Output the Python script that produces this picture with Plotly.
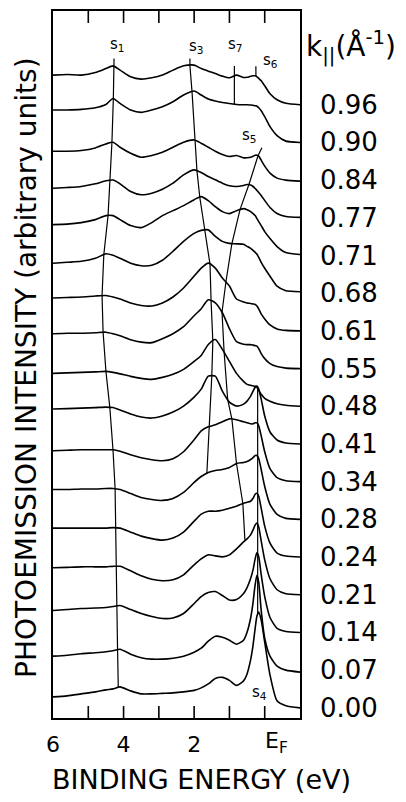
import numpy as np
import plotly.graph_objects as go

# Binding energy grid (eV) shared by every spectrum
energy = [6.0, 5.6, 5.2, 4.8, 4.5, 4.3, 4.1, 3.8, 3.5, 3.2, 2.9, 2.6, 2.3, 2.0, 1.8,
          1.6, 1.4, 1.2, 1.0, 0.8, 0.6, 0.5, 0.4, 0.33, 0.27, 0.22, 0.17, 0.1, 0.0,
          -0.15, -0.35, -0.6, -1.0]

# k_parallel labels, bottom spectrum first
k_labels = ["0.00", "0.07", "0.14", "0.21", "0.24", "0.28", "0.34", "0.41", "0.48",
            "0.55", "0.61", "0.68", "0.71", "0.77", "0.84", "0.90", "0.96"]

# Photoemission intensity (arbitrary units, above each spectrum's own baseline)
spec_000 = [11, 12, 14, 16, 18, 19, 21, 17, 14, 14, 14.5, 15, 16, 17.5, 20, 24, 29.5, 30.5, 27.5, 22.5, 27, 34, 48, 63, 80, 92, 96, 88, 66, 33, 7, 2, 0]
spec_007 = [14, 15, 16.5, 17.5, 18.5, 19.5, 21, 16, 12.5, 11, 11, 12, 14, 18, 22, 29, 34, 33, 30, 26, 30, 38, 52, 68, 86, 95, 88, 60, 32, 14, 4, 0, -2]
spec_014 = [22, 23, 24, 24.5, 25, 26, 27, 23, 19, 16, 14, 14.5, 19, 29, 36, 40, 41, 37, 32.5, 33, 39, 45, 54, 63, 74, 80, 76, 58, 36, 15, 4, 1, 0]
spec_021 = [27, 27.5, 28, 28, 28, 28.5, 28.5, 24, 19, 15.5, 14, 15, 20, 30, 36, 40, 39, 38, 40, 46, 53, 56, 60, 65, 70, 72, 68, 54, 35, 16, 5, 1, 0]
spec_024 = [29, 29, 29, 29, 29, 29.5, 29, 25, 21, 18.5, 17, 19, 25, 36, 43, 46, 46, 47, 49, 51, 54, 55, 56, 59, 63, 64, 61, 49, 31, 14, 4, 1, 0]
spec_028 = [30, 30, 30.5, 30.5, 31, 31, 30, 26, 22, 20, 19, 21, 27, 37, 43, 47, 49, 50, 52, 56, 57, 58, 60, 62, 64, 64, 61, 50, 33, 15, 5, 1, 0]
spec_034 = [31, 31.5, 32, 32, 32, 32, 30.5, 27, 24, 22, 21, 23, 30, 42, 51, 55, 57, 60, 63, 62, 60, 59, 58, 58, 59, 59, 56, 46, 30, 13, 4, 1, 0]
spec_041 = [35, 35.5, 36, 36.5, 37, 36.5, 34, 30, 27, 26, 28, 32, 38, 47, 55, 68, 68, 53, 42, 38, 40, 43, 48, 53, 57, 58, 55, 45, 28, 12, 4, 1, 0]
spec_048 = [33, 33.5, 34, 34.5, 35, 34, 32.5, 30, 28, 27, 29, 32, 37, 45, 51, 62, 67, 57, 45, 33, 25, 22, 21, 20.5, 20, 19, 16, 12, 8, 5, 2.5, 1, 0]
spec_055 = [35, 35.5, 35.5, 36, 36.5, 35, 33, 29, 26.5, 26, 30, 35, 42, 53, 60, 69, 66, 56, 40, 27, 24.5, 24, 24, 23.5, 23, 22.5, 20, 15, 10, 5, 2, 0.5, 0]
spec_061 = [33, 33.5, 34, 35, 35.5, 34, 32, 28, 25.5, 25, 28, 34, 43, 55, 63, 68, 63, 53, 45, 32, 29, 28, 27.5, 27, 26.5, 25, 22, 17, 12, 6, 2, 0.5, 0]
spec_068 = [30, 31, 32, 35, 39.5, 38, 35, 30, 27.5, 28, 33, 42, 52, 60, 63, 63.5, 57, 52, 50, 49.5, 49, 47, 45, 43, 41, 39, 36, 31, 25, 17, 7, 2.5, 1.5]
spec_071 = [31, 31.5, 33, 36, 40, 40, 36, 30, 28, 33, 40, 45, 50, 56, 59, 55, 49, 44, 42, 45, 47, 46, 44, 42, 40, 37, 34, 30, 24, 17, 9, 3, 1]
spec_077 = [29.7, 30.4, 31.4, 34.1, 37.1, 37.9, 34.1, 26.4, 23.1, 24.7, 28.7, 34.7, 43.1, 48.1, 45.4, 41.4, 38.1, 34.7, 32.1, 31.4, 32.4, 33.4, 32.9, 31.4, 29.4, 27.4, 25.4, 22.4, 17.4, 10.4, 4.4, 1.4, 0.4]
spec_084 = [29, 29, 29.7, 32.3, 36.3, 38, 33, 27, 23, 24.7, 28, 33, 38, 40.3, 37, 33, 29, 25.7, 23.7, 24.7, 22.3, 22.5, 23, 24, 25, 25, 24, 20, 14, 7, 2, 0, -1]
spec_090 = [32.5, 32.5, 33.1, 34.8, 38.1, 44.1, 39.1, 32.5, 30.1, 32.5, 35.8, 40.8, 47.5, 51.5, 47.5, 43.5, 41.5, 40.1, 39.1, 38.1, 37.8, 37.8, 37.5, 37.3, 36.8, 36.3, 34.8, 31.8, 25.8, 15.8, 6.8, 1.3, 0]
spec_096 = [29.7, 30.3, 29.7, 32.3, 36.3, 39, 34.7, 28, 25.7, 27, 29.7, 34.7, 39, 39.7, 36.3, 33.7, 31.3, 28.7, 27, 29.7, 27.3, 27.5, 28.5, 29, 29, 28, 26.5, 24, 19, 11, 5, 1.5, 0]

spectra = [spec_000, spec_007, spec_014, spec_021, spec_024, spec_028, spec_034, spec_041,
           spec_048, spec_055, spec_061, spec_068, spec_071, spec_077, spec_084, spec_090, spec_096]

# Peak positions (binding energy, eV) followed across the spectra, top spectrum first
s1_energy = [4.27, 4.29, 4.33, 4.39, 4.44, 4.56, 4.61, 4.58, 4.50, 4.39, 4.30, 4.24, 4.22, 4.19, 4.19, 4.17, 4.15]  # 0.96 -> 0.00
s3_energy = [2.12, 2.06, 1.98, 1.92, 1.84, 1.69, 1.55, 1.52, 1.47, 1.50, 1.58, 1.64]  # 0.96 -> 0.28
s5_energy = [0.19, 0.45, 0.70, 0.93, 1.10, 1.21, 1.15, 1.05, 0.93, 0.80, 0.62, 0.56]  # 0.84 -> 0.21
s4_energy = 0.20   # 0.41 -> 0.00
s7_energy = 0.86   # 0.90, 0.96
s6_energy = 0.25   # 0.96

# Axis ticks
tick_energy = [5, 4, 3, 2, 1, 0]
label_energy = [6, 4, 2, 0]
label_text = ["6", "4", "2", ""]

STACK = 37.8
Y_LO, Y_HI = -10.2, 698.8
e_inc = np.array(energy[::-1])


def level(i, e):
    return i * STACK + float(np.interp(e, e_inc, np.array(spectra[i][::-1], dtype=float)))


fig = go.Figure()
for i, h in enumerate(spectra):
    fig.add_trace(go.Scatter(
        x=energy, y=np.array(h, dtype=float) + i * STACK, mode="lines",
        line=dict(color="black", width=1.6, shape="spline", smoothing=0.6),
        hoverinfo="skip", showlegend=False))

mark = dict(color="black", width=1.2)
top = len(spectra) - 1

# S1
xs = [s1_energy[0]] + s1_energy
ys = [level(top, s1_energy[0]) + 8] + [level(top - j, e) for j, e in enumerate(s1_energy)]
fig.add_trace(go.Scatter(x=xs, y=ys, mode="lines", line=mark, hoverinfo="skip", showlegend=False))
# S3
xs = [s3_energy[0]] + s3_energy
ys = [level(top, s3_energy[0]) + 7] + [level(top - j, e) for j, e in enumerate(s3_energy)]
fig.add_trace(go.Scatter(x=xs, y=ys, mode="lines", line=mark, hoverinfo="skip", showlegend=False))
# S5
xs = [0.08] + s5_energy
ys = [level(14, s5_energy[0]) + 8] + [level(14 - j, e) for j, e in enumerate(s5_energy)]
fig.add_trace(go.Scatter(x=xs, y=ys, mode="lines", line=mark, hoverinfo="skip", showlegend=False))
# S4
idx = list(range(7, -1, -1))
fig.add_trace(go.Scatter(x=[s4_energy] * len(idx), y=[level(i, s4_energy) for i in idx],
                         mode="lines", line=mark, hoverinfo="skip", showlegend=False))
# S7
fig.add_trace(go.Scatter(x=[s7_energy, s7_energy],
                         y=[level(15, s7_energy), level(16, s7_energy) + 10],
                         mode="lines", line=mark, hoverinfo="skip", showlegend=False))
# S6
fig.add_trace(go.Scatter(x=[s6_energy, s6_energy],
                         y=[level(16, s6_energy), level(16, s6_energy) + 10],
                         mode="lines", line=mark, hoverinfo="skip", showlegend=False))

L, R, T, B = 53, 300, 9, 718
TICK_FRAC = 12 / (B - T)

# inward tick marks on the bottom and top frame at every integer energy
shapes = []
for e in tick_energy:
    shapes.append(dict(type="line", xref="x", yref="paper", x0=e, x1=e, y0=0, y1=TICK_FRAC,
                       line=dict(color="black", width=1.6), layer="above"))
    shapes.append(dict(type="line", xref="x", yref="paper", x0=e, x1=e, y0=1, y1=1 - TICK_FRAC,
                       line=dict(color="black", width=1.6), layer="above"))


def ppos(x, y):
    return dict(x=(x - L) / (R - L), y=(B - y) / (B - T), xref="paper", yref="paper")


ann = []
for txt, x, y in [("s<sub>1</sub>", 117, 43), ("s<sub>3</sub>", 196, 45), ("s<sub>7</sub>", 235, 43),
                  ("s<sub>6</sub>", 270, 59), ("s<sub>5</sub>", 249, 134), ("s<sub>4</sub>", 259, 692)]:
    ann.append(dict(text=txt, showarrow=False, font=dict(size=15), xanchor="center", yanchor="middle",
                    **ppos(x, y)))

for i, lab in enumerate(k_labels):
    ann.append(dict(text=lab, showarrow=False, font=dict(size=26), xanchor="left", yanchor="middle",
                    x=(318 - L) / (R - L), xref="paper", y=i * STACK, yref="y"))

ann.append(dict(text="k<sub>||</sub>(Å<sup>-1</sup>)", showarrow=False, font=dict(size=28),
                xanchor="center", yanchor="middle", **ppos(351, 45)))
ann.append(dict(text="E<sub>F</sub>", showarrow=False, font=dict(size=22),
                xanchor="center", yanchor="middle", **ppos(276, 743)))
ann.append(dict(text="BINDING ENERGY (eV)", showarrow=False, font=dict(size=27),
                xanchor="center", yanchor="middle", **ppos(201, 780)))
ann.append(dict(text="PHOTOEMISSION INTENSITY (arbitrary units)", showarrow=False, font=dict(size=28),
                textangle=-90, xanchor="center", yanchor="middle", **ppos(27, 367)))

fig.update_layout(
    width=406, height=802,
    margin=dict(l=L, r=406 - R, t=T, b=802 - B, pad=0),
    paper_bgcolor="white", plot_bgcolor="white",
    font=dict(family="DejaVu Sans", color="black"),
    showlegend=False,
    annotations=ann,
    shapes=shapes,
    xaxis=dict(range=[6, -1], tickvals=label_energy, ticktext=label_text, ticks="",
               showline=True, linecolor="black", linewidth=1.5, mirror=True,
               showgrid=False, zeroline=False, tickfont=dict(size=22),
               ticklabelstandoff=6),
    yaxis=dict(range=[Y_LO, Y_HI], showline=True, linecolor="black", linewidth=1.5,
               mirror=True, ticks="", showticklabels=False, showgrid=False, zeroline=False),
)

fig.write_html("out.html", config={"displayModeBar": False},
               post_script="document.body.style.margin='0px';document.body.style.overflow='hidden';")
